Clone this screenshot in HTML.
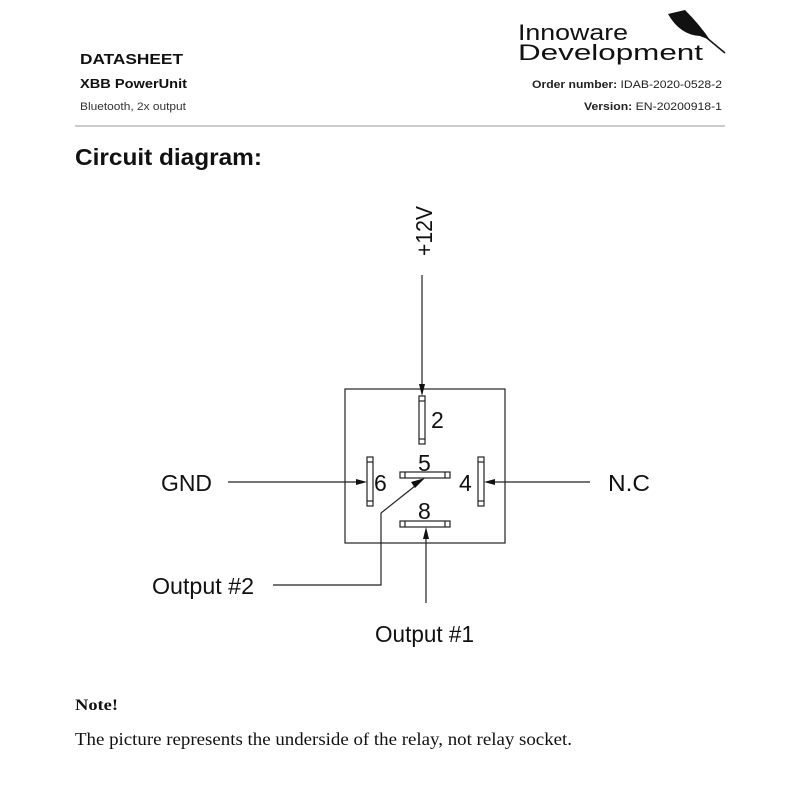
<!DOCTYPE html>
<html><head><meta charset="utf-8"><style>
html,body{margin:0;padding:0;background:#fff;width:800px;height:800px;overflow:hidden}
</style></head><body>
<svg width="800" height="800" viewBox="0 0 800 800" xmlns="http://www.w3.org/2000/svg" font-family="Liberation Sans, sans-serif">
<text x="80" y="64" font-size="15" font-weight="bold" fill="#111" textLength="103" lengthAdjust="spacingAndGlyphs">DATASHEET</text>
<text x="80" y="88" font-size="13" font-weight="bold" fill="#111" textLength="107" lengthAdjust="spacingAndGlyphs">XBB PowerUnit</text>
<text x="80" y="110" font-size="11" fill="#333" textLength="106" lengthAdjust="spacingAndGlyphs">Bluetooth, 2x output</text>
<text x="532" y="88" font-size="11" fill="#222" textLength="190" lengthAdjust="spacingAndGlyphs"><tspan font-weight="bold">Order number:</tspan> IDAB-2020-0528-2</text>
<text x="584" y="110" font-size="11" fill="#222" textLength="138" lengthAdjust="spacingAndGlyphs"><tspan font-weight="bold">Version:</tspan> EN-20200918-1</text>
<text x="518" y="40" font-size="22" fill="#111" textLength="110" lengthAdjust="spacingAndGlyphs">Innoware</text>
<text x="518" y="60" font-size="22" fill="#111" textLength="185" lengthAdjust="spacingAndGlyphs">Development</text>
<path d="M668 14 L685 10 Q700 25 710 40 L700 36 Q680 35 668 14 Z" fill="#111"/>
<line x1="678" y1="14" x2="725" y2="53" stroke="#111" stroke-width="1.5"/>
<line x1="75" y1="126" x2="725" y2="126" stroke="#999" stroke-width="1"/>
<text x="75" y="165" font-size="23" font-weight="bold" fill="#111" textLength="187" lengthAdjust="spacingAndGlyphs">Circuit diagram:</text>

<g stroke="#222" stroke-width="1.2" fill="none">
<rect x="345" y="389" width="160" height="154"/>
<rect x="419" y="396" width="6" height="48"/>
<line x1="419" y1="401" x2="425" y2="401"/><line x1="419" y1="439" x2="425" y2="439"/>
<rect x="367" y="457" width="6" height="49"/>
<line x1="367" y1="462" x2="373" y2="462"/><line x1="367" y1="501" x2="373" y2="501"/>
<rect x="478" y="457" width="6" height="49"/>
<line x1="478" y1="462" x2="484" y2="462"/><line x1="478" y1="501" x2="484" y2="501"/>
<rect x="400" y="472" width="50" height="6"/>
<line x1="405" y1="472" x2="405" y2="478"/><line x1="445" y1="472" x2="445" y2="478"/>
<rect x="400" y="521" width="50" height="6"/>
<line x1="405" y1="521" x2="405" y2="527"/><line x1="445" y1="521" x2="445" y2="527"/>
<line x1="422" y1="275" x2="422" y2="390"/>
<line x1="228" y1="482" x2="360" y2="482"/>
<line x1="491" y1="482" x2="590" y2="482"/>
<line x1="426" y1="603" x2="426" y2="534"/>
<polyline points="273,585 381,585 381,513 415,486"/>
</g>
<g fill="#111">
<polygon points="419,384 425,384 422,396"/>
<polygon points="356,479 356,485 367,482"/>
<polygon points="495,479 495,485 484,482"/>
<polygon points="423,539 429,539 426,527"/>
<polygon points="411,482 415,488 425,478"/>
</g>
<g font-size="23" fill="#111">
<text x="431" y="428">2</text>
<text x="418" y="471">5</text>
<text x="374" y="491">6</text>
<text x="459" y="491">4</text>
<text x="418" y="519">8</text>
<text x="161" y="491" textLength="51" lengthAdjust="spacingAndGlyphs">GND</text>
<text x="608" y="491" textLength="42" lengthAdjust="spacingAndGlyphs">N.C</text>
<text x="152" y="594" textLength="102" lengthAdjust="spacingAndGlyphs">Output #2</text>
<text x="375" y="642" textLength="99" lengthAdjust="spacingAndGlyphs">Output #1</text>
<text transform="translate(432,256) rotate(-90)" textLength="50" lengthAdjust="spacingAndGlyphs">+12V</text>
</g>
<text x="75" y="710" font-family="Liberation Serif, serif" font-size="16" font-weight="bold" fill="#111" textLength="43" lengthAdjust="spacingAndGlyphs">Note!</text>
<text x="75" y="745" font-family="Liberation Serif, serif" font-size="18" fill="#111" textLength="497" lengthAdjust="spacingAndGlyphs">The picture represents the underside of the relay, not relay socket.</text>
</svg>
</body></html>
